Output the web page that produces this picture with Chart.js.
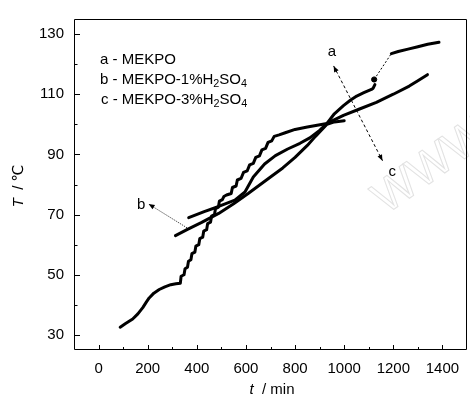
<!DOCTYPE html>
<html><head><meta charset="utf-8">
<script src="https://cdn.jsdelivr.net/npm/chart.js@4.4.1/dist/chart.umd.min.js"></script>
<style>html,body{margin:0;padding:0;background:#fff;overflow:hidden;width:470px;height:398px}canvas{display:block}</style>
</head><body>
<canvas id="c" width="472" height="398"></canvas>
<script>
// ---- data ----
const xTicks = [0, 200, 400, 600, 800, 1000, 1200, 1400];
const yTicks = [30, 50, 70, 90, 110, 130];
const xMinor = [100, 300, 500, 700, 900, 1100, 1300];
const yMinor = [40, 60, 80, 100, 120];
const seriesLabels = ['a - MEKPO', 'b - MEKPO-1%H_2SO_4', 'c - MEKPO-3%H_2SO_4'];

// curve a (MEKPO) - main part
const aTime = [88,110,139,160,180,195,206,225,247,270,294,315,333,336,348,352,362,366,376,380,392,396,408,412,424,428,440,444,456,460,472,476,488,492,504,510,521,540,545,560,565,580,590,605,615,630,640,655,665,680,690,705,715,735,760,800,850,890,930,960,997,1025,1051,1080,1111,1118,1125];
const aTemp = [32.6,33.8,35.3,37.0,39.1,41.0,42.3,43.9,45.1,46.0,46.7,47.0,47.2,49.5,50.0,52.0,52.5,54.5,55.0,57.0,57.5,59.5,60.0,62.0,62.5,64.5,65.0,67.0,67.5,69.5,70.0,72.0,72.5,74.5,75.0,76.0,76.5,77.0,79.0,79.5,81.5,82.0,84.0,84.5,86.5,87.0,89.0,89.5,91.5,92.0,94.0,94.5,96.0,96.5,97.2,98.3,99.1,99.7,100.3,103.5,106.2,108.0,109.4,110.5,111.6,112.0,113.2];
// curve a - isolated point and upper part
const aDotTime = [1122];
const aDotTemp = [114.9];
const a2Time = [1192,1220,1260,1300,1340,1386];
const a2Temp = [123.5,124.2,125.0,125.8,126.6,127.3];
// curve b (MEKPO-1%H2SO4)
const bTime = [313,360,420,489,550,609,700,750,800,850,883,930,960,1000];
const bTemp = [63.0,65.0,67.4,70.4,73.6,77.0,82.5,85.5,89.0,93.0,96.0,100.0,100.8,101.2];
// curve c (MEKPO-3%H2SO4)
const cTime = [367,430,489,555,596,630,676,720,770,820,860,900,930,997,1060,1131,1200,1265,1300,1339];
const cTemp = [69.0,71.0,72.7,74.8,77.5,82.5,86.8,89.6,91.8,93.7,95.5,98.0,100.3,103.0,105.0,107.3,110.0,112.7,114.5,116.5];

// annotation anchor points (data units)
const annA = {label:'a', x:950, y:124.0, tip:[957,119.4]};
const annC = {label:'c', x:1196, y:84.2, tip:[1156,87.9]};
const annB = {label:'b', x:173, y:73.2, tip:[204,73.5], from:[360,65.6]};

const pts = (xs, ys) => xs.map((v, i) => ({x: v, y: ys[i]}));
const FONT = '"Liberation Sans", Arial, "DejaVu Sans", sans-serif';

const lineDs = (xs, ys) => ({data: pts(xs, ys), showLine: true, borderColor: '#000', backgroundColor: '#000',
  borderWidth: 3, pointRadius: 0, tension: 0, borderCapStyle: 'round', borderJoinStyle: 'round'});

const connector = {
  data: [{x: aDotTime[0], y: aDotTemp[0]}, {x: a2Time[0], y: a2Temp[0]}],
  showLine: true, borderColor: '#000', borderWidth: 1, borderDash: [2, 2], pointRadius: 0
};
const dot = {data: pts(aDotTime, aDotTemp), pointRadius: 2.6, backgroundColor: '#000', borderColor: '#000', showLine: false};

function drawSubText(ctx, str, x, y, size) {
  let cx = x;
  let i = 0;
  while (i < str.length) {
    if (str[i] === '_') {
      const ch = str[i + 1];
      ctx.font = (size * 0.72) + 'px ' + FONT;
      ctx.fillText(ch, cx, y + size * 0.28);
      cx += ctx.measureText(ch).width;
      i += 2;
    } else {
      let j = i;
      while (j < str.length && str[j] !== '_') j++;
      const seg = str.slice(i, j);
      ctx.font = size + 'px ' + FONT;
      ctx.fillText(seg, cx, y);
      cx += ctx.measureText(seg).width;
      i = j;
    }
  }
}

function arrowHead(ctx, fx, fy, tx, ty, len, w) {
  const ang = Math.atan2(ty - fy, tx - fx);
  ctx.beginPath();
  ctx.moveTo(tx, ty);
  ctx.lineTo(tx - len * Math.cos(ang) + w * Math.sin(ang), ty - len * Math.sin(ang) - w * Math.cos(ang));
  ctx.lineTo(tx - len * Math.cos(ang) - w * Math.sin(ang), ty - len * Math.sin(ang) + w * Math.cos(ang));
  ctx.closePath();
  ctx.fill();
}

const decor = {
  id: 'decor',
  beforeDatasetsDraw(chart) {
    const {ctx, chartArea: ca} = chart;
    // faint watermark
    ctx.save();
    ctx.translate(ca.left + 312, ca.top + 196);
    ctx.rotate(-0.62);
    ctx.font = '46px ' + FONT;
    ctx.strokeStyle = '#e2e2e2';
    ctx.lineWidth = 1;
    ctx.strokeText('WWW', 0, 0);
    ctx.restore();
  },
  afterDraw(chart) {
    const {ctx, chartArea: ca, scales: {x, y}} = chart;
    ctx.save();
    ctx.strokeStyle = '#000';
    ctx.fillStyle = '#000';
    ctx.lineWidth = 1;
    // frame
    ctx.beginPath();
    ctx.moveTo(ca.left + 0.5, ca.top + 0.5);
    ctx.lineTo(ca.right - 0.5, ca.top + 0.5);
    ctx.lineTo(ca.right - 0.5, ca.bottom - 0.5);
    ctx.lineTo(ca.left + 0.5, ca.bottom - 0.5);
    ctx.closePath();
    ctx.stroke();
    // inward ticks
    ctx.beginPath();
    xTicks.forEach(v => { const p = Math.round(x.getPixelForValue(v)) + 0.5; ctx.moveTo(p, ca.bottom); ctx.lineTo(p, ca.bottom - 5); });
    xMinor.forEach(v => { const p = Math.round(x.getPixelForValue(v)) + 0.5; ctx.moveTo(p, ca.bottom); ctx.lineTo(p, ca.bottom - 3); });
    yTicks.forEach(v => { const p = Math.round(y.getPixelForValue(v)) + 0.5; ctx.moveTo(ca.left, p); ctx.lineTo(ca.left + 6, p); });
    yMinor.forEach(v => { const p = Math.round(y.getPixelForValue(v)) + 0.5; ctx.moveTo(ca.left, p); ctx.lineTo(ca.left + 3.5, p); });
    ctx.stroke();

    // axis titles
    ctx.textBaseline = 'alphabetic';
    ctx.textAlign = 'left';
    // x title: "t / min"
    ctx.font = 'italic 15px ' + FONT;
    const tW = ctx.measureText('t').width;
    ctx.font = '15px ' + FONT;
    const restX = '  / min';
    const rW = ctx.measureText(restX).width;
    let sx = 272 - (tW + rW) / 2;
    ctx.font = 'italic 15px ' + FONT; ctx.fillText('t', sx, 394);
    ctx.font = '15px ' + FONT; ctx.fillText(restX, sx + tW, 394);
    // y title: "T / ℃"
    ctx.save();
    ctx.translate(23, 186);
    ctx.rotate(-Math.PI / 2);
    ctx.font = 'italic 15px ' + FONT;
    const TW = ctx.measureText('T').width;
    ctx.font = '15px ' + FONT;
    const restY = '  / \u2103';
    const RW = ctx.measureText(restY).width;
    const sy = -(TW + RW) / 2;
    ctx.font = 'italic 15px ' + FONT; ctx.fillText('T', sy, 0);
    ctx.font = '15px ' + FONT; ctx.fillText(restY, sy + TW, 0);
    ctx.restore();

    // legend text
    ctx.textBaseline = 'middle';
    seriesLabels.forEach((s, i) => drawSubText(ctx, s, ca.left + 26 + (i === 2 ? 1 : 0), 60 + i * 20, 15));

    // annotations
    const P = (d) => [x.getPixelForValue(d[0]), y.getPixelForValue(d[1])];
    ctx.font = '15px ' + FONT;
    ctx.textAlign = 'center';
    ctx.textBaseline = 'middle';
    [annA, annB, annC].forEach(a => ctx.fillText(a.label, x.getPixelForValue(a.x), y.getPixelForValue(a.y)));
    // a <-> c dashed arrow
    const pa = P(annA.tip), pc = P(annC.tip);
    ctx.setLineDash([3, 2.5]);
    ctx.beginPath(); ctx.moveTo(pa[0], pa[1]); ctx.lineTo(pc[0], pc[1]); ctx.stroke();
    ctx.setLineDash([]);
    arrowHead(ctx, pc[0], pc[1], pa[0], pa[1], 6, 2.5);
    arrowHead(ctx, pa[0], pa[1], pc[0], pc[1], 6, 2.5);
    // b dotted pointer
    const pb = P(annB.tip), pf = P(annB.from);
    ctx.lineWidth = 0.8;
    ctx.setLineDash([1.2, 1.2]);
    ctx.beginPath(); ctx.moveTo(pf[0], pf[1]); ctx.lineTo(pb[0], pb[1]); ctx.stroke();
    ctx.setLineDash([]);
    arrowHead(ctx, pf[0], pf[1], pb[0], pb[1], 6, 2.5);
    ctx.restore();
  }
};

new Chart(document.getElementById('c'), {
  type: 'scatter',
  data: {datasets: [lineDs(aTime, aTemp), dot, connector, lineDs(a2Time, a2Temp), lineDs(bTime, bTemp), lineDs(cTime, cTemp)]},
  options: {
    responsive: false, animation: false, devicePixelRatio: 1,
    layout: {padding: {top: 11, right: 0, left: 0, bottom: 0}},
    plugins: {legend: {display: false}, tooltip: {enabled: false}},
    scales: {
      x: {type: 'linear', min: -100, max: 1500,
        afterBuildTicks: s => { s.ticks = xTicks.map(v => ({value: v})); },
        afterFit: s => { s.height = 48; },
        grid: {display: false, drawTicks: false}, border: {display: false},
        ticks: {color: '#000', font: {size: 15, family: FONT}, padding: 10, maxRotation: 0, autoSkip: false,
          callback: v => String(v)}},
      y: {type: 'linear', min: 25, max: 135,
        afterBuildTicks: s => { s.ticks = yTicks.map(v => ({value: v})); },
        afterFit: s => { s.width = 74; },
        grid: {display: false, drawTicks: false}, border: {display: false},
        ticks: {color: '#000', font: {size: 15, family: FONT}, padding: 10, autoSkip: false,
          callback: v => String(v)}}
    }
  },
  plugins: [decor]
});
</script>
</body></html>
